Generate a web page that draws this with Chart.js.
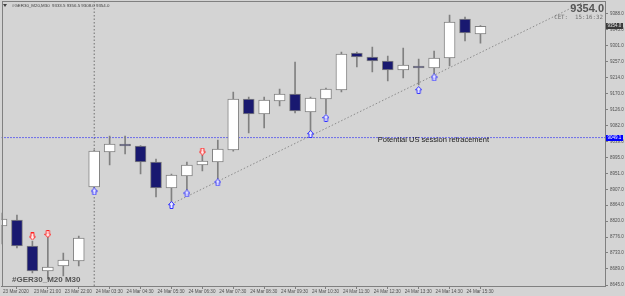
<!DOCTYPE html>
<html>
<head>
<meta charset="utf-8">
<script src="https://cdn.jsdelivr.net/npm/chart.js@4.4.1/dist/chart.umd.min.js"></script>
<style>
  html, body { margin: 0; padding: 0; background: #d4d4d4; }
  canvas { display: block; }
</style>
</head>
<body>
<canvas id="c" width="625" height="296"></canvas>
<script>
// --- données (bougies M30, index 0 = 23 Mar 20:00) ---
const opens  = [8806.8, 8823.2, 8751.9, 8683.4, 8697.1, 8710.8, 8913.7, 9009.7, 9031.6, 9026.1, 8982.3, 8910.9, 8943.9, 8974.0, 8982.3, 9015.1,
                9155.0, 9113.8, 9149.5, 9168.7, 9119.3, 9155.0, 9179.6, 9281.1, 9270.1, 9259.2, 9234.5, 9245.4, 9240.0, 9267.4, 9374.3, 9333.5];
const highs  = [8842.4, 8836.9, 8765.6, 8776.6, 8732.7, 8779.4, 9015.1, 9053.5, 9053.5, 9027.0, 8990.5, 8949.4, 8982.3, 9001.4, 9042.6, 9174.2,
                9160.5, 9160.5, 9182.4, 9256.4, 9160.5, 9185.1, 9283.8, 9283.8, 9297.5, 9272.9, 9294.8, 9264.6, 9286.6, 9385.3, 9379.8, 9356.5];
const lows   = [8757.4, 8746.5, 8677.9, 8661.5, 8669.7, 8697.1, 8910.9, 8974.0, 9004.2, 8949.4, 8886.3, 8872.6, 8905.5, 8957.6, 8935.6, 9012.0,
                9061.8, 9075.4, 9135.8, 9116.6, 9064.5, 9113.8, 9174.2, 9242.7, 9229.0, 9204.3, 9212.5, 9193.4, 9223.5, 9245.4, 9314.0, 9308.0];
const closes = [8826.0, 8751.9, 8683.4, 8694.4, 8713.6, 8773.9, 9012.4, 9031.6, 9026.1, 8982.3, 8910.9, 8946.6, 8974.0, 8985.0, 9017.9, 9155.0,
                9113.8, 9152.2, 9168.7, 9122.1, 9157.7, 9182.4, 9278.3, 9270.1, 9259.2, 9234.5, 9248.2, 9240.0, 9267.4, 9366.1, 9335.9, 9354.0];

// flèches fractales
const upIdx     = [6, 11, 12, 14, 20, 21, 27, 28];
const upPrice   = [8901.4, 8864.4, 8895.9, 8926.1, 9059.0, 9102.9, 9179.6, 9213.9];
const downIdx   = [2, 3, 13];
const downPrice = [8778.0, 8784.8, 9011.0];

// axes
const timeTickIdx = [0, 2, 4, 6, 8, 10, 12, 14, 16, 18, 20, 22, 24, 26, 28, 30];
const timeLabels = ['23 Mar 2020', '23 Mar 21:00', '23 Mar 22:00', '24 Mar 03:30', '24 Mar 04:30', '24 Mar 05:30', '24 Mar 06:30',
                    '24 Mar 07:30', '24 Mar 08:30', '24 Mar 09:30', '24 Mar 10:30', '24 Mar 11:30', '24 Mar 12:30', '24 Mar 13:30',
                    '24 Mar 14:30', '24 Mar 15:30'];
const priceTicks = [8645, 8689, 8733, 8776, 8820, 8864, 8907, 8951, 8995, 9039, 9082, 9126, 9170, 9214, 9257, 9301, 9345, 9388];
const X_MAX = 39.06;
const Y_MIN = 8642.3, Y_MAX = 9423.6;

// objets dessinés
const levelPrice = 9049.1;
const levelText = 'Potential US session retracement';
const levelTextAt = [24.35, 9042.6];
const trendX = [11, 38.5];
const trendY = [8867, 9438];
const separatorIdx = 6;
const lastPrice = 9354.0;

const C = {
  bg: '#d4d4d4',
  frame: '#808080',
  text: '#505050',
  bull: '#ffffff',
  bear: '#191970',
  wick: '#808080',
  level: '#0000ff',
  trend: '#8c8c8c',
};

function arrow(dir, stroke, fill) {
  const cv = document.createElement('canvas');
  cv.width = 7; cv.height = 8;
  const g = cv.getContext('2d');
  g.save();
  if (dir < 0) { g.translate(0, 8); g.scale(1, -1); }
  g.beginPath();
  g.moveTo(3.5, 0.5); g.lineTo(6.5, 3.8); g.lineTo(5, 3.8); g.lineTo(5, 7.5);
  g.lineTo(2, 7.5); g.lineTo(2, 3.8); g.lineTo(0.5, 3.8); g.closePath();
  g.fillStyle = fill; g.fill();
  g.strokeStyle = stroke; g.lineWidth = 1; g.stroke();
  g.restore();
  return cv;
}

const idx = opens.map((_, i) => i);
const bodies = idx.map(i => ({ x: i, y: [opens[i], closes[i]] }));
const wicks = idx.map(i => ({ x: i, y: [lows[i], highs[i]] }));
const isBull = idx.map(i => closes[i] >= opens[i]);

const overlay = {
  id: 'overlay',
  beforeDraw(chart) {
    const { ctx } = chart;
    ctx.save();
    ctx.fillStyle = C.bg;
    ctx.fillRect(0, 0, chart.width, chart.height);
    ctx.restore();
  },
  afterDraw(chart) {
    const { ctx, chartArea: a, scales: { x, y } } = chart;
    ctx.save();
    // cadre
    ctx.strokeStyle = C.frame; ctx.lineWidth = 1;
    ctx.strokeRect(Math.round(a.left) + 0.5, Math.round(a.top) + 0.5, Math.round(a.right - a.left) - 1, Math.round(a.bottom - a.top));

    // entête
    ctx.fillStyle = '#404040';
    ctx.beginPath(); ctx.moveTo(3, 4); ctx.lineTo(7, 4); ctx.lineTo(5, 7); ctx.closePath(); ctx.fill();
    ctx.font = '4.4px "Liberation Sans"';
    ctx.textBaseline = 'middle'; ctx.textAlign = 'left';
    ctx.fillText('#GER30_M20,M30  9333.5 9356.5 9308.0 9354.0', 12, 5.5);

    // prix courant + horloge
    ctx.fillStyle = '#555555';
    ctx.font = 'bold 11px "Liberation Sans"';
    ctx.textAlign = 'right';
    ctx.fillText(lastPrice.toFixed(1), 604, 9);
    ctx.fillStyle = '#707070';
    ctx.font = '5.8px "DejaVu Sans Mono"';
    ctx.fillText('CET:  15:16:32', 603, 17.5);

    // symbole en bas à gauche
    ctx.fillStyle = '#555555';
    ctx.font = 'bold 8px "Liberation Sans"';
    ctx.textAlign = 'left';
    ctx.fillText('#GER30_M20 M30', 12, 280);

    // texte du niveau
    ctx.fillStyle = '#1a1a1a';
    ctx.font = '7.5px "Liberation Sans"';
    ctx.fillText(levelText, x.getPixelForValue(levelTextAt[0]), y.getPixelForValue(levelTextAt[1]));

    // étiquettes de prix sur l'axe
    const tag = (val, bg, fg) => {
      const py = Math.round(y.getPixelForValue(val));
      ctx.fillStyle = bg;
      ctx.fillRect(a.right + 1, py - 3, 17, 6);
      ctx.fillStyle = fg;
      ctx.font = '4.5px "Liberation Sans"';
      ctx.textAlign = 'left';
      ctx.fillText(val.toFixed(1), a.right + 2.5, py + 0.2);
    };
    tag(lastPrice, '#3a3a3a', '#e8e8e8');
    tag(levelPrice, C.level, '#ffffff');
    ctx.restore();
  },
};

new Chart(document.getElementById('c'), {
  type: 'bar',
  data: {
    datasets: [
      {
        label: 'body', order: 1, data: bodies, barThickness: 11, grouped: false,
        backgroundColor: isBull.map(b => b ? C.bull : C.bear),
        borderColor: C.wick, borderWidth: 1, borderSkipped: false,
      },
      {
        label: 'wick', order: 2, data: wicks, barThickness: 1, grouped: false,
        backgroundColor: C.wick, borderWidth: 0,
      },
      {
        type: 'line', label: 'level', order: 3,
        data: [{ x: 0, y: levelPrice }, { x: X_MAX, y: levelPrice }],
        borderColor: C.level, borderWidth: 1, borderDash: [1, 2], pointRadius: 0,
      },
      {
        type: 'line', label: 'trend', order: 3,
        data: trendX.map((v, i) => ({ x: v, y: trendY[i] })),
        borderColor: C.trend, borderWidth: 1, borderDash: [1.5, 2], pointRadius: 0,
      },
      {
        type: 'line', label: 'sep', order: 3,
        data: [{ x: separatorIdx, y: Y_MIN }, { x: separatorIdx, y: Y_MAX }],
        borderColor: '#707070', borderWidth: 1, borderDash: [1.5, 2], pointRadius: 0,
      },
      {
        type: 'line', label: 'up', order: 0, showLine: false,
        data: upIdx.map((v, i) => ({ x: v, y: upPrice[i] })),
        pointStyle: arrow(1, '#3030ff', '#eeeeff'),
      },
      {
        type: 'line', label: 'down', order: 0, showLine: false,
        data: downIdx.map((v, i) => ({ x: v, y: downPrice[i] })),
        pointStyle: arrow(-1, '#ff2020', '#ffeeee'),
      },
    ],
  },
  options: {
    responsive: false,
    animation: false,
    devicePixelRatio: 1,
    layout: { padding: { left: 1.5, top: 1, right: 0, bottom: 0 }, autoPadding: false },
    plugins: { legend: { display: false }, tooltip: { enabled: false } },
    scales: {
      x: {
        type: 'linear', min: 0, max: X_MAX, offset: false,
        grid: { drawOnChartArea: false, tickLength: 3, color: C.frame },
        border: { color: C.frame },
        ticks: {
          autoSkip: false, maxRotation: 0, align: 'start', labelOffset: 1.5, padding: 0,
          color: C.text, font: { family: 'Liberation Sans', size: 4.6 },
          callback: v => timeLabels[timeTickIdx.indexOf(v)] ?? '',
        },
        afterBuildTicks: s => { s.ticks = timeTickIdx.map(v => ({ value: v })); },
        afterFit: s => { s.height = 10; s.paddingLeft = 0; s.paddingRight = 0; },
      },
      y: {
        type: 'linear', position: 'right', min: Y_MIN, max: Y_MAX,
        grid: { drawOnChartArea: false, tickLength: 3, color: C.frame },
        border: { color: C.frame },
        ticks: {
          padding: 2, color: C.text, font: { family: 'Liberation Sans', size: 4.5 },
          callback: v => v.toFixed(1),
        },
        afterBuildTicks: s => { s.ticks = priceTicks.map(v => ({ value: v })); },
        afterFit: s => { s.width = 20; s.paddingTop = 0; s.paddingBottom = 0; },
      },
    },
  },
  plugins: [overlay],
});
</script>
</body>
</html>
